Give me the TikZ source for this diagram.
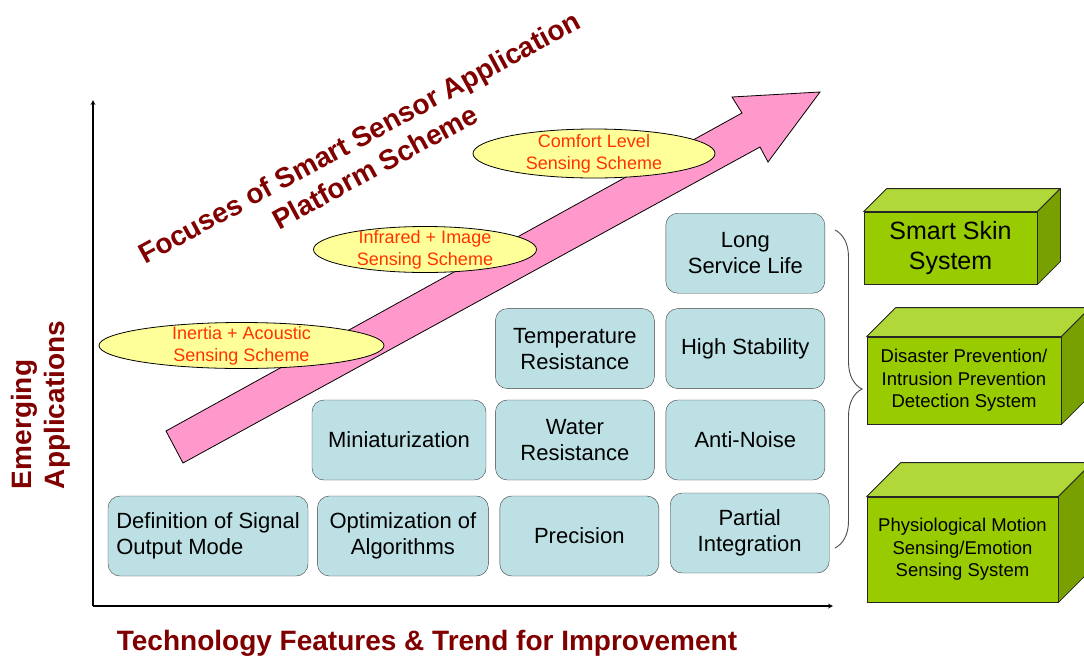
\documentclass[tikz,border=0pt]{standalone}
\usepackage{fontspec}
\setmainfont{Liberation Sans}
\usepackage{tikz}
\usetikzlibrary{arrows, positioning, shapes.geometric, decorations.pathreplacing}

\definecolor{darkred}{RGB}{128,0,0}
\definecolor{featblue}{RGB}{188,224,228}
\definecolor{schemeyellow}{RGB}{255,255,153}
\definecolor{schemered}{RGB}{255,51,0}
\definecolor{arrowpink}{RGB}{255,153,204}
\definecolor{sysfront}{RGB}{153,204,0}
\definecolor{systop}{RGB}{176,216,56}
\definecolor{sysside}{RGB}{120,160,0}

\begin{document}
\begin{tikzpicture}[x=1pt,y=-1pt,
  feature/.style={draw=black!75, fill=featblue, rounded corners=12pt, minimum width=159pt, minimum height=80pt, inner sep=2pt, align=center, font=\fontsize{22}{26}\selectfont},
  scheme/.style={ellipse, draw, fill=schemeyellow, line width=0.8pt, inner sep=0pt},
  schemetext/.style={text=schemered, align=center, font=\fontsize{18}{22}\selectfont},
  system/.style={draw=black!85, fill=sysfront, line width=0.8pt, inner sep=2pt, align=center, font=\fontsize{18.5}{22.5}\selectfont},
  boxtop/.style={draw=black!85, fill=systop, line width=0.8pt, line join=round},
  boxside/.style={draw=black!85, fill=sysside, line width=0.8pt, line join=round},
  heading/.style={text=darkred, align=center, font=\bfseries\fontsize{28}{33.5}\selectfont}]
\clip (0,0) rectangle (1084,662);

\coordinate (origin) at (93,606);
\coordinate (ytip) at (93,100);
\coordinate (xtip) at (833,606);
\draw[->, >=stealth, line width=1.2pt] (origin) -- (ytip);
\draw[->, >=stealth, line width=1.2pt] (origin) -- (xtip);

\filldraw[fill=arrowpink, draw=black, line width=0.8pt] (166,431) -- (742,113) -- (732,97) -- (820,92) -- (768,162) -- (760,147) -- (183,463) -- cycle;

\node[scheme, minimum width=285pt, minimum height=46pt] (inertia) at (241.5,345.5) {};
\node[schemetext] (inertiatext) at (inertia) {Inertia + Acoustic\\Sensing Scheme};
\node[scheme, minimum width=223pt, minimum height=46pt] (infrared) at (425,249.5) {};
\node[schemetext] (infraredtext) at (infrared) {Infrared + Image\\Sensing Scheme};
\node[scheme, minimum width=242pt, minimum height=49pt] (comfort) at (594,153.5) {};
\node[schemetext] (comforttext) at (comfort) {Comfort Level\\Sensing Scheme};

\node[feature, minimum width=200pt, align=left] (signal) at (208,536) {Definition of Signal\\Output Mode};
\node[feature, minimum width=171pt, right=9pt of signal] (algo) {Optimization of\\Algorithms};
\node[feature, right=11pt of algo] (precision) {Precision};
\node[feature, right=11pt of precision, yshift=3pt] (partial) {Partial\\Integration};
\node[feature, minimum width=174pt] (mini) at (399,440) {Miniaturization};
\node[feature, right=9pt of mini] (water) {Water\\Resistance};
\node[feature, right=11pt of water] (antinoise) {Anti-Noise};
\node[feature, above=11pt of water] (temp) {Temperature\\Resistance};
\node[feature, above=11pt of antinoise] (stability) {High Stability};
\node[feature, above=15pt of stability] (lifetime) {Long\\Service Life};

\coordinate (bracetop) at (835,230);
\coordinate (bracebot) at (835,548);
\draw[decorate, decoration={brace, amplitude=27pt}, draw=black!70, line width=0.9pt] (bracetop) -- (bracebot);

\node[system, minimum width=173pt, minimum height=72pt, font=\fontsize{25}{30}\selectfont] (sskin) at (950.5,248) {Smart Skin\\System};
\node[system, minimum width=194pt, minimum height=87pt] (disaster) at (964,380.5) {Disaster Prevention/\\Intrusion Prevention\\Detection System};
\node[system, minimum width=191pt, minimum height=105pt] (physio) at (962.5,549.5) {Physiological Motion\\Sensing/Emotion\\Sensing System};
\foreach \n/\d in {sskin/23, disaster/29, physio/34} {
  \filldraw[boxtop] (\n.north west) -- ++(\d,-\d) -- ([shift={(\d,-\d)}]\n.north east) -- (\n.north east) -- cycle;
  \filldraw[boxside] (\n.north east) -- ++(\d,-\d) -- ([shift={(\d,-\d)}]\n.south east) -- (\n.south east) -- cycle;
}

\node[heading, rotate=28.5] (focus) at (367,152) {Focuses of Smart Sensor Application\\Platform Scheme};
\node[heading, rotate=90, align=left] (emerging) at (41,405) {Emerging\\Applications};
\node[heading] (trend) at (427,643) {Technology Features \& Trend for Improvement};
\end{tikzpicture}
\end{document}
